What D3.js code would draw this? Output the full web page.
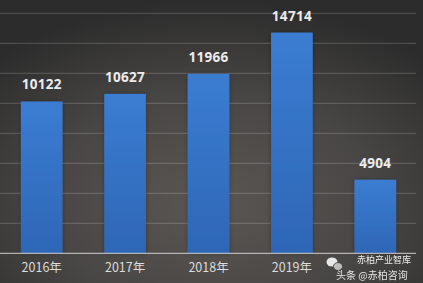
<!DOCTYPE html>
<html><head><meta charset="utf-8">
<script src="https://cdn.jsdelivr.net/npm/d3@7"></script>
<style>html,body{margin:0;padding:0;background:#3a3a3a;}svg{display:block;}</style>
</head><body>
<svg id="c" width="423" height="283"></svg>
<script>
const categories = ["2016年","2017年","2018年","2019年","2020年"];
const values = [10122, 10627, 11966, 14714, 4904];
const showXLabel = [true, true, true, true, false];
const yTicks = [0,2000,4000,6000,8000,10000,12000,14000,16000];

const W = 423, H = 283;
const svg = d3.select("#c");
const defs = svg.append("defs");
const bg = defs.append("radialGradient").attr("id","bg")
  .attr("cx","50%").attr("cy","72%").attr("r","72%");
bg.append("stop").attr("offset","0%").attr("stop-color","#5a5653");
bg.append("stop").attr("offset","55%").attr("stop-color","#484644");
bg.append("stop").attr("offset","100%").attr("stop-color","#2c2c2c");
const bar = defs.append("linearGradient").attr("id","bar").attr("x1",0).attr("y1",0).attr("x2",0).attr("y2",1);
bar.append("stop").attr("offset","0%").attr("stop-color","#3b7dd2");
bar.append("stop").attr("offset","100%").attr("stop-color","#2e66b6");
const sh = defs.append("filter").attr("id","sh").attr("x","-30%").attr("y","-10%").attr("width","160%").attr("height","120%");
sh.append("feDropShadow").attr("dx",0).attr("dy",0).attr("stdDeviation",2).attr("flood-color","#000").attr("flood-opacity",0.3);

svg.append("rect").attr("width",W).attr("height",H).attr("fill","url(#bg)");

const x = d3.scaleBand().domain(categories).range([0,417]).paddingInner(0.5).paddingOuter(0.25);
const y = d3.scaleLinear().domain([0,16000]).range([253.3,13.3]);

svg.append("g").selectAll("line").data(yTicks.slice(1)).join("line")
  .attr("x1",0).attr("x2",416).attr("y1",d=>y(d)).attr("y2",d=>y(d))
  .attr("stroke","rgba(255,255,255,0.2)").attr("stroke-width",1);

svg.append("g").selectAll("rect").data(values).join("rect")
  .attr("x",(d,i)=>x(categories[i])).attr("width",x.bandwidth())
  .attr("y",d=>y(d)).attr("height",d=>y(0)-y(d))
  .attr("fill","url(#bar)").attr("filter","url(#sh)");

svg.append("line").attr("x1",0).attr("x2",416).attr("y1",y(0)).attr("y2",y(0))
  .attr("stroke","#cfcfcf").attr("stroke-width",1);

svg.append("g").selectAll("text").data(values).join("text")
  .attr("x",(d,i)=>x(categories[i])+x.bandwidth()/2).attr("y",d=>y(d)-12)
  .attr("text-anchor","middle").attr("fill","#ececec")
  .attr("font-family","'Open Sans','Noto Sans',sans-serif").attr("font-weight","bold").attr("font-size",13.5)
  .attr("letter-spacing",0.3)
  .text(d=>d);

const xAxis = d3.axisBottom(x).tickSize(0).tickPadding(0).tickFormat((d,i)=>showXLabel[i]?d:"");
const ax = svg.append("g").attr("transform",`translate(0,${y(0)})`).call(xAxis);
ax.select(".domain").remove();
ax.selectAll("text").attr("dy",null).attr("y",19).attr("fill","#dcdcdc")
  .attr("font-family","'Noto Sans CJK SC',sans-serif").attr("font-size",12.5);

const wm = svg.append("g").attr("font-family","'Noto Sans CJK SC',sans-serif");
wm.append("ellipse").attr("cx",332).attr("cy",262).attr("rx",5.5).attr("ry",4.6).attr("fill","#e8e8e8");
wm.append("ellipse").attr("cx",338).attr("cy",266.5).attr("rx",4.6).attr("ry",3.9).attr("fill","#bdbdbd").attr("stroke","#3a3a3a").attr("stroke-width",0.8);
wm.append("text").attr("x",357).attr("y",263).attr("fill","#ffffff").attr("font-size",9).attr("opacity",0.9).text("赤柏产业智库");
wm.append("text").attr("x",336).attr("y",278.5).attr("fill","#ffffff").attr("font-size",10).attr("opacity",0.85).text("头条 @赤柏咨询");
</script>
</body></html>
